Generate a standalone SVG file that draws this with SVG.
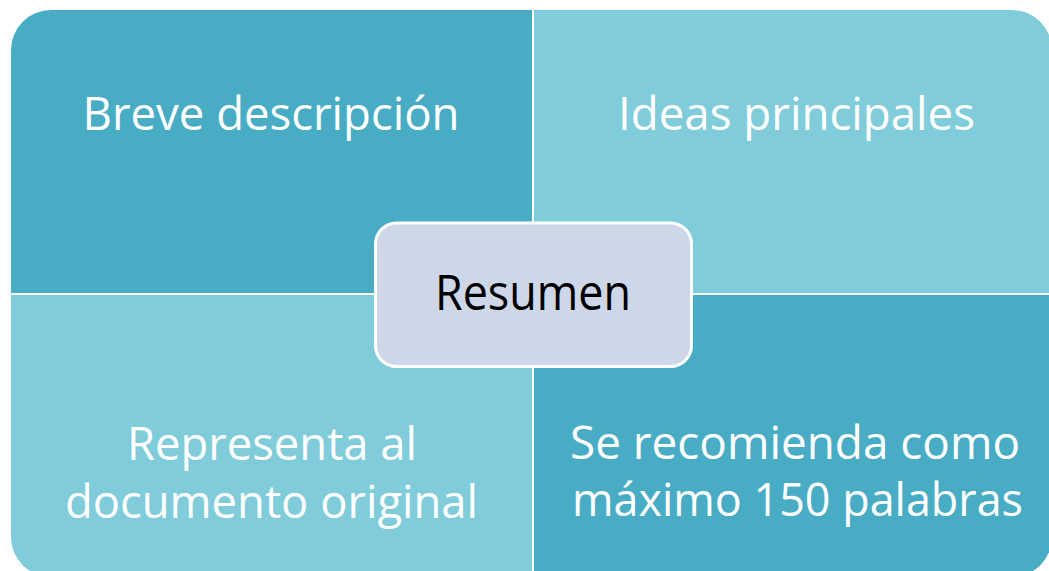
<svg xmlns="http://www.w3.org/2000/svg" width="1049" height="571" viewBox="0 0 1049 571">
<style>
.dark{fill:#49ACC5}
.light{fill:#80CCDA}
.qt{font-family:"Open Sans","Liberation Sans",sans-serif;font-size:46px;fill:#FFFFFF;text-anchor:middle}
.ct{font-family:"Open Sans","Liberation Sans",sans-serif;font-size:50px;fill:#000000;text-anchor:middle}
</style>
<rect width="1049" height="571" fill="#FFFFFF"/>
<g id="q-breve">
<path class="dark" d="M11,293 V50 A40,40 0 0 1 51,10 H532 V293 Z"/>
<text class="qt" x="271" y="130" textLength="377" lengthAdjust="spacingAndGlyphs">Breve descripción</text>
</g>
<g id="q-ideas">
<path class="light" d="M534,10 H1012 A40,40 0 0 1 1052,50 V293 H534 Z"/>
<text class="qt" x="796.5" y="130" textLength="357" lengthAdjust="spacingAndGlyphs">Ideas principales</text>
</g>
<g id="q-representa">
<path class="light" d="M11,295 H532 V577 H51 A40,40 0 0 1 11,537 Z"/>
<text class="qt" x="272" y="460" textLength="290" lengthAdjust="spacingAndGlyphs">Representa al</text>
<text class="qt" x="271.5" y="518" textLength="413" lengthAdjust="spacingAndGlyphs">documento original</text>
</g>
<g id="q-recomienda">
<path class="dark" d="M534,295 H1052 V537 A40,40 0 0 1 1012,577 H534 Z"/>
<text class="qt" x="795" y="459" textLength="450" lengthAdjust="spacingAndGlyphs">Se recomienda como</text>
<text class="qt" x="797.5" y="516" textLength="451" lengthAdjust="spacingAndGlyphs">máximo 150 palabras</text>
</g>
<g id="connectors"></g>
<g id="center">
<rect x="375.5" y="223" width="316" height="143.5" rx="21" ry="21" fill="#CDD7E8" stroke="#FFFFFF" stroke-width="3"/>
<text class="ct" x="533" y="310" textLength="196" lengthAdjust="spacingAndGlyphs">Resumen</text>
</g>
</svg>
